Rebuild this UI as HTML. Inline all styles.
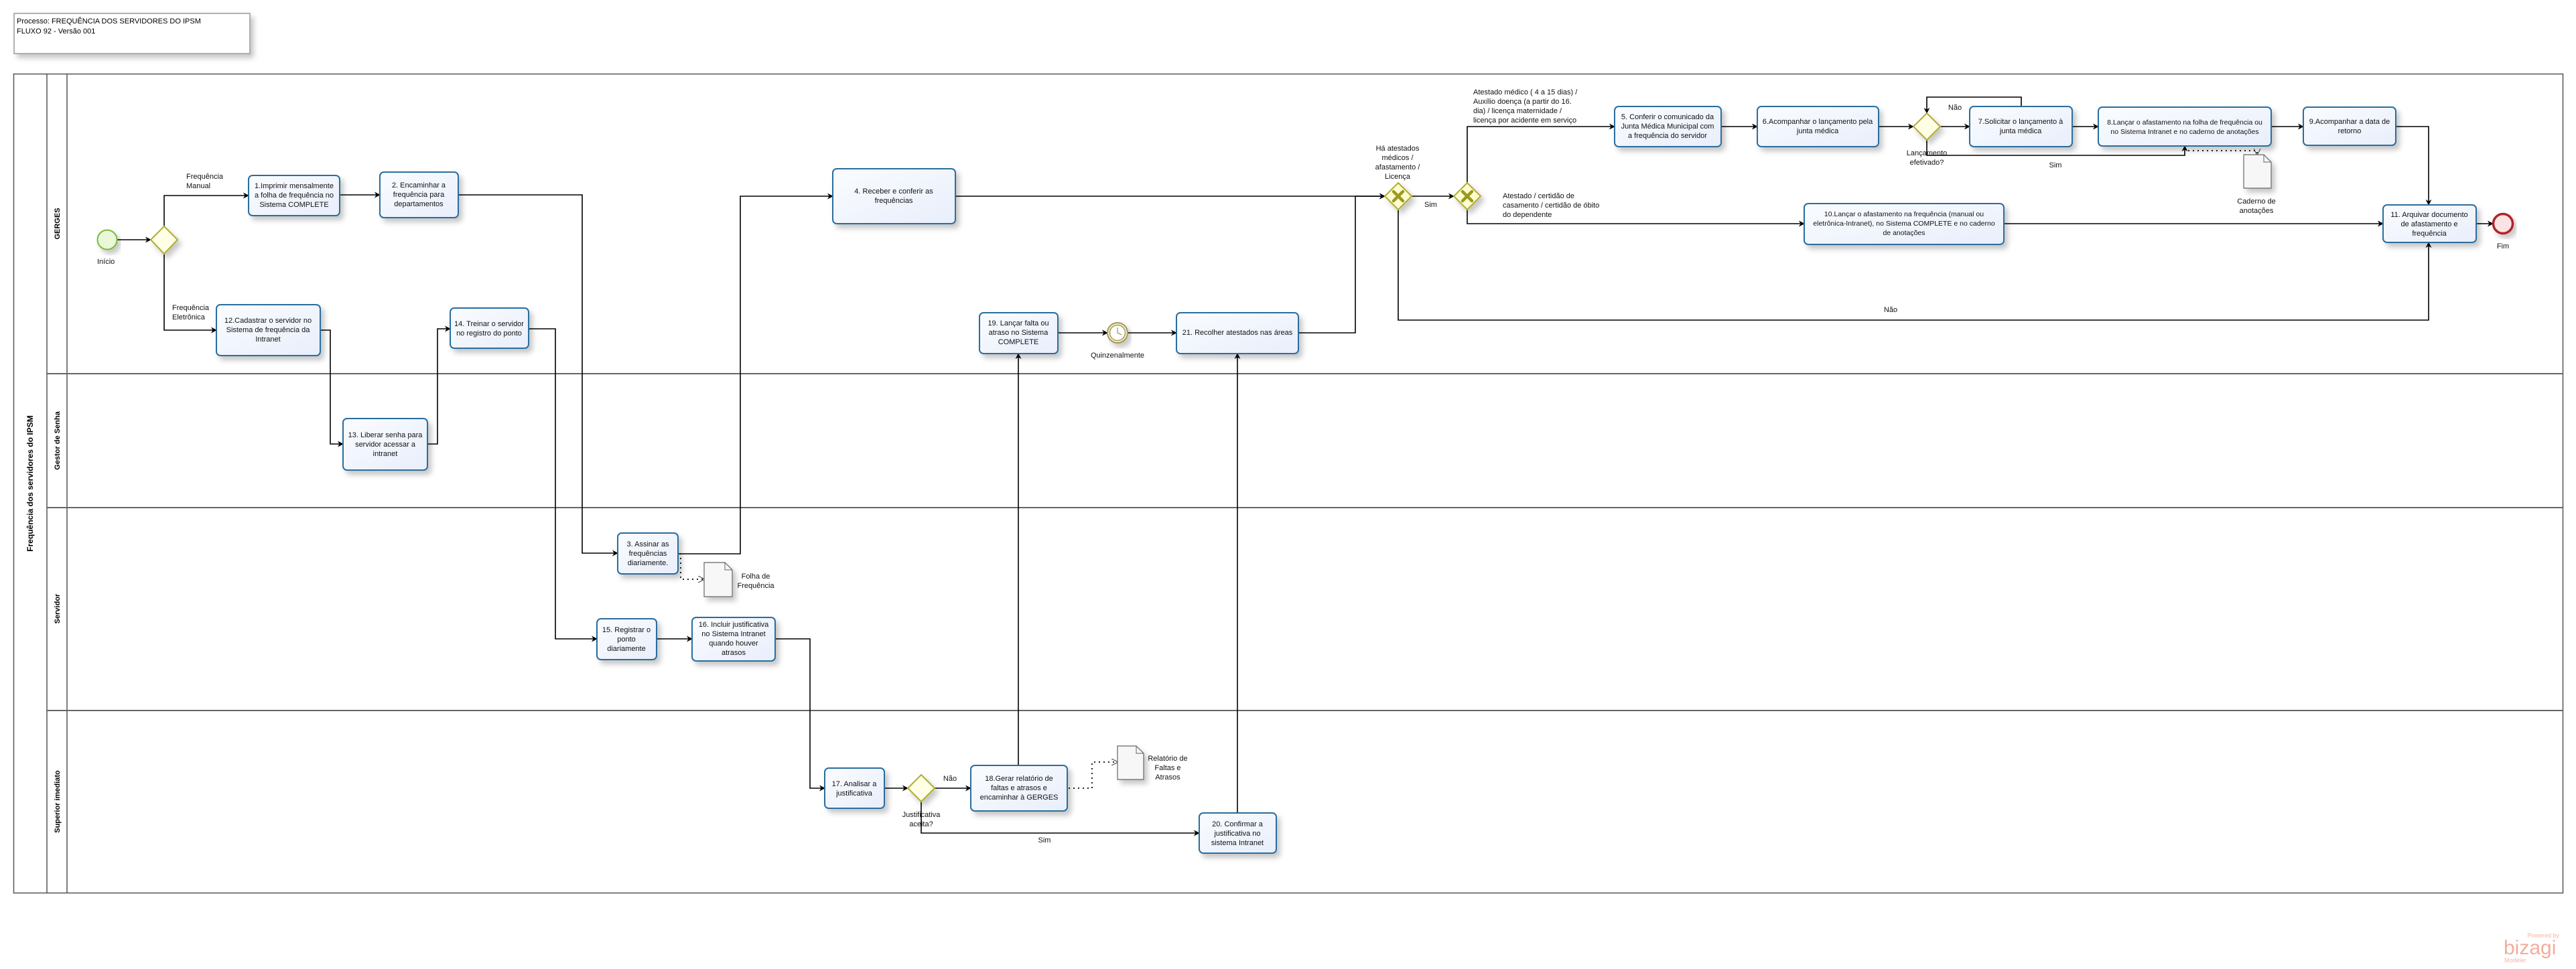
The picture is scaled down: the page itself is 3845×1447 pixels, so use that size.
<!DOCTYPE html>
<html><head><meta charset="utf-8">
<style>
html,body{margin:0;padding:0;background:#fff;}
body{width:3845px;height:1447px;overflow:hidden;position:relative;font-family:"Liberation Sans","DejaVu Sans",sans-serif;}
svg{position:absolute;left:0;top:0;}
text{font-family:"Liberation Sans","DejaVu Sans",sans-serif;}
</style></head><body>
<svg width="3845" height="1447" viewBox="0 0 3845 1447" xmlns="http://www.w3.org/2000/svg">
<defs>
<marker id="a" viewBox="0 0 10 10" refX="9" refY="5" markerWidth="9" markerHeight="9" markerUnits="userSpaceOnUse" orient="auto"><path d="M0,0 L10,5 L0,10 L3,5 z" fill="#000"/></marker>
<marker id="o" viewBox="0 0 10 10" refX="9" refY="5" markerWidth="10" markerHeight="10" markerUnits="userSpaceOnUse" orient="auto"><path d="M0,0 L10,5 L0,10" fill="none" stroke="#333" stroke-width="1"/></marker>
<linearGradient id="tg" x1="0" y1="0" x2="1" y2="1"><stop offset="0" stop-color="#fafcff"/><stop offset="1" stop-color="#e8eefb"/></linearGradient>
<filter id="sh" x="-10%" y="-10%" width="130%" height="140%"><feDropShadow dx="5" dy="6" stdDeviation="4" flood-color="#000" flood-opacity="0.22"/></filter>
</defs>

<rect x="21" y="20" width="352" height="60" fill="#fff" stroke="#999" stroke-width="1.5" filter="url(#sh)"/>
<text x="25" y="35" font-size="11">Processo: FREQUÊNCIA DOS SERVIDORES DO IPSM</text>
<text x="25" y="50" font-size="11">FLUXO 92 - Versão 001</text>

<rect x="20.5" y="110.5" width="3805" height="1223" fill="#fff" stroke="#555" stroke-width="1.5"/>
<line x1="70" y1="110" x2="70" y2="1334" stroke="#555" stroke-width="1.5"/>
<line x1="100" y1="110" x2="100" y2="1334" stroke="#555" stroke-width="1.5"/>
<line x1="70" y1="558" x2="3826" y2="558" stroke="#666" stroke-width="2"/>
<line x1="70" y1="758" x2="3826" y2="758" stroke="#666" stroke-width="2"/>
<line x1="70" y1="1061" x2="3826" y2="1061" stroke="#666" stroke-width="2"/>
<text transform="translate(49,722) rotate(-90)" font-size="12" font-weight="bold" text-anchor="middle">Frequência dos servidores do IPSM</text>
<text transform="translate(89,334) rotate(-90)" font-size="11" font-weight="bold" text-anchor="middle">GERGES</text>
<text transform="translate(89,658) rotate(-90)" font-size="11" font-weight="bold" text-anchor="middle">Gestor de Senha</text>
<text transform="translate(89,909) rotate(-90)" font-size="11" font-weight="bold" text-anchor="middle">Servidor</text>
<text transform="translate(89,1197) rotate(-90)" font-size="11" font-weight="bold" text-anchor="middle">Superior imediato</text>

<g fill="none" stroke="#000" stroke-width="1.6">
<path d="M175,358 H225" marker-end="url(#a)"/>
<path d="M245,338 V292 H371" marker-end="url(#a)"/>
<path d="M245,379 V493 H323" marker-end="url(#a)"/>
<path d="M507,291 H567" marker-end="url(#a)"/>
<path d="M684,291 H869 V826 H922" marker-end="url(#a)"/>
<path d="M478,493 H493 V663 H512" marker-end="url(#a)"/>
<path d="M638,663 H653 V491 H672" marker-end="url(#a)"/>
<path d="M789,491 H829 V954 H891" marker-end="url(#a)"/>
<path d="M980,954 H1033" marker-end="url(#a)"/>
<path d="M1157,954 H1209 V1177 H1231" marker-end="url(#a)"/>
<path d="M1320,1177 H1355" marker-end="url(#a)"/>
<path d="M1395,1177 H1449" marker-end="url(#a)"/>
<path d="M1375,1197 V1244 H1790" marker-end="url(#a)"/>
<path d="M1520,1143 V528" marker-end="url(#a)"/>
<path d="M1847,1214 V528" marker-end="url(#a)"/>
<path d="M1579,497 H1653" marker-end="url(#a)"/>
<path d="M1683,497 H1756" marker-end="url(#a)"/>
<path d="M1938,497 H2023 V293 H2067" marker-end="url(#a)"/>
<path d="M1012,827 H1105 V293 H1243" marker-end="url(#a)"/>
<path d="M1426,293 H2067" marker-end="url(#a)"/>
<path d="M2107,293 H2170" marker-end="url(#a)"/>
<path d="M2190,273 V189 H2410" marker-end="url(#a)"/>
<path d="M2190,313 V334 H2693" marker-end="url(#a)"/>
<path d="M2087,313 V478 H3625 V362" marker-end="url(#a)"/>
<path d="M2569,189 H2623" marker-end="url(#a)"/>
<path d="M2804,189 H2856" marker-end="url(#a)"/>
<path d="M2896,189 H2940" marker-end="url(#a)"/>
<path d="M3017,159 V145 H2876 V169" marker-end="url(#a)"/>
<path d="M2876,209 V232 H3261 V218" marker-end="url(#a)"/>
<path d="M3093,189 H3132" marker-end="url(#a)"/>
<path d="M3390,189 H3438" marker-end="url(#a)"/>
<path d="M3576,189 H3625 V306" marker-end="url(#a)"/>
<path d="M2991,334 H3557" marker-end="url(#a)"/>
<path d="M3696,334 H3721" marker-end="url(#a)"/>
</g>
<g fill="none" stroke="#222" stroke-width="2" stroke-dasharray="2,5">
<path d="M3266,225 H3369 V231" marker-end="url(#o)"/>
<path d="M1016,826 V865 H1051" marker-end="url(#o)"/>
<path d="M1595,1177 H1630 V1138 H1668" marker-end="url(#o)"/>
</g>

<g fill="url(#tg)" stroke="#2a6e9e" stroke-width="2" filter="url(#sh)">
<rect x="371" y="262" width="136" height="60" rx="6"/>
<rect x="567" y="257" width="117" height="68" rx="6"/>
<rect x="323" y="455" width="155" height="76" rx="6"/>
<rect x="672" y="460" width="117" height="60" rx="6"/>
<rect x="1243" y="252" width="183" height="82" rx="6"/>
<rect x="1462" y="467" width="117" height="61" rx="6"/>
<rect x="1756" y="467" width="182" height="61" rx="6"/>
<rect x="2410" y="159" width="159" height="60" rx="6"/>
<rect x="2623" y="159" width="181" height="60" rx="6"/>
<rect x="2940" y="159" width="153" height="60" rx="6"/>
<rect x="3132" y="160" width="258" height="58" rx="6"/>
<rect x="3438" y="160" width="138" height="57" rx="6"/>
<rect x="2693" y="304" width="298" height="61" rx="6"/>
<rect x="3557" y="306" width="139" height="56" rx="6"/>
<rect x="512" y="625" width="126" height="77" rx="6"/>
<rect x="922" y="796" width="90" height="61" rx="6"/>
<rect x="891" y="924" width="89" height="61" rx="6"/>
<rect x="1033" y="922" width="124" height="65" rx="6"/>
<rect x="1231" y="1147" width="89" height="60" rx="6"/>
<rect x="1449" y="1143" width="144" height="68" rx="6"/>
<rect x="1790" y="1214" width="115" height="60" rx="6"/>
</g>

<g font-size="11" text-anchor="middle" fill="#111">
<text x="439" y="281">1.Imprimir mensalmente</text><text x="439" y="295">a folha de frequência no</text><text x="439" y="309">Sistema COMPLETE</text>
<text x="625" y="280">2. Encaminhar a</text><text x="625" y="294">frequência para</text><text x="625" y="308">departamentos</text>
<text x="400" y="482">12.Cadastrar o servidor no</text><text x="400" y="496">Sistema de frequência da</text><text x="400" y="510">Intranet</text>
<text x="730" y="487">14. Treinar o servidor</text><text x="730" y="501">no registro do ponto</text>
<text x="1334" y="289">4. Receber e conferir as</text><text x="1334" y="303">frequências</text>
<text x="1520" y="486">19. Lançar falta ou</text><text x="1520" y="500">atraso no Sistema</text><text x="1520" y="514">COMPLETE</text>
<text x="1847" y="500">21. Recolher atestados nas áreas</text>
<text x="2489" y="178">5. Conferir o comunicado da</text><text x="2489" y="192">Junta Médica Municipal com</text><text x="2489" y="206">a frequência do servidor</text>
<text x="2713" y="185">6.Acompanhar o lançamento pela</text><text x="2713" y="199">junta  médica</text>
<text x="3016" y="185">7.Solicitar o lançamento à</text><text x="3016" y="199">junta médica</text>
<text x="3261" y="186" font-size="10.5">8.Lançar o afastamento na folha de frequência ou</text><text x="3261" y="200" font-size="10.5">no Sistema Intranet e no caderno de anotações</text>
<text x="3507" y="185">9.Acompanhar a data de</text><text x="3507" y="199">retorno</text>
<text x="2842" y="323" font-size="10.5">10.Lançar o afastamento  na frequência (manual ou</text><text x="2842" y="337" font-size="10.5">eletrônica-Intranet), no Sistema COMPLETE e no caderno</text><text x="2842" y="351" font-size="10.5">de anotações</text>
<text x="3626" y="324">11. Arquivar documento</text><text x="3626" y="338">de afastamento e</text><text x="3626" y="352">frequência</text>
<text x="575" y="653">13. Liberar senha para</text><text x="575" y="667">servidor  acessar a</text><text x="575" y="681">intranet</text>
<text x="967" y="816">3. Assinar as</text><text x="967" y="830">frequências</text><text x="967" y="844">diariamente.</text>
<text x="935" y="944">15. Registrar o</text><text x="935" y="958">ponto</text><text x="935" y="972">diariamente</text>
<text x="1095" y="936">16. Incluir justificativa</text><text x="1095" y="950">no Sistema Intranet</text><text x="1095" y="964">quando houver</text><text x="1095" y="978">atrasos</text>
<text x="1275" y="1174">17. Analisar a</text><text x="1275" y="1188">justificativa</text>
<text x="1521" y="1166">18.Gerar relatório de</text><text x="1521" y="1180">faltas e atrasos e</text><text x="1521" y="1194">encaminhar à GERGES</text>
<text x="1847" y="1234">20. Confirmar a</text><text x="1847" y="1248">justificativa no</text><text x="1847" y="1262">sistema Intranet</text>
</g>

<circle cx="160" cy="358" r="14.5" fill="#eaf7d8" stroke="#7cbb3a" stroke-width="2" filter="url(#sh)"/>
<circle cx="3736" cy="334" r="14.5" fill="#fbe3e3" stroke="#b3232a" stroke-width="3.5" filter="url(#sh)"/>
<g filter="url(#sh)">
<circle cx="1668" cy="497" r="15" fill="#f5f0da" stroke="#a59a55" stroke-width="2"/>
<circle cx="1668" cy="497" r="11.5" fill="#fff" stroke="#a59a55" stroke-width="1.5"/>
</g>
<path d="M1668,489 V497 L1674,500" fill="none" stroke="#a59a55" stroke-width="1.3"/>

<g stroke="#b1ad2d" stroke-width="2" filter="url(#sh)">
<polygon points="245,338 265,358 245,379 225,358" fill="#ffffe6"/>
<polygon points="1375,1157 1395,1177 1375,1197 1355,1177" fill="#ffffe6"/>
<polygon points="2876,169 2896,189 2876,209 2856,189" fill="#ffffe6"/>
<polygon points="2087,273 2107,293 2087,313 2067,293" fill="#fffbd0"/>
<polygon points="2190,273 2210,293 2190,313 2170,293" fill="#fffbd0"/>
</g>
<g stroke="#9a9a1c" stroke-width="4.5" stroke-linecap="round">
<path d="M2080,286 L2094,300 M2094,286 L2080,300"/>
<path d="M2183,286 L2197,300 M2197,286 L2183,300"/>
</g>

<g fill="#f7f7f7" stroke="#666" stroke-width="1.2" filter="url(#sh)">
<path d="M3349,231 H3379 L3390,242 V281 H3349 Z"/>
<path d="M1051,840 H1082 L1093,851 V891 H1051 Z"/>
<path d="M1668,1114 H1696 L1707,1125 V1164 H1668 Z"/>
</g>
<g fill="none" stroke="#666" stroke-width="1"><path d="M3379,231 V242 H3390"/><path d="M1082,840 V851 H1093"/><path d="M1696,1114 V1125 H1707"/></g>

<g font-size="11" fill="#111">
<text x="278" y="267">Frequência</text><text x="278" y="281">Manual</text>
<text x="257" y="463">Frequência</text><text x="257" y="477">Eletrônica</text>
<text x="145" y="394">Início</text>
<text x="3736" y="371" text-anchor="middle">Fim</text>
<text x="2086" y="225" text-anchor="middle">Há atestados</text><text x="2086" y="239" text-anchor="middle">médicos /</text><text x="2086" y="253" text-anchor="middle">afastamento /</text><text x="2086" y="267" text-anchor="middle">Licença</text>
<text x="2126" y="309">Sim</text>
<text x="2199" y="141">Atestado médico ( 4 a 15 dias) /</text><text x="2199" y="155">Auxílio doença (a partir do 16.</text><text x="2199" y="169">dia) / licença maternidade /</text><text x="2199" y="183">licença por acidente em serviço</text>
<text x="2243" y="296">Atestado / certidão de</text><text x="2243" y="310">casamento  / certidão de óbito</text><text x="2243" y="324">do dependente</text>
<text x="2822" y="466" text-anchor="middle">Não</text>
<text x="2918" y="164" text-anchor="middle">Não</text>
<text x="2876" y="232" text-anchor="middle">Lançamento</text><text x="2876" y="246" text-anchor="middle">efetivado?</text>
<text x="3068" y="250" text-anchor="middle">Sim</text>
<text x="3368" y="304" text-anchor="middle">Caderno de</text><text x="3368" y="318" text-anchor="middle">anotações</text>
<text x="1668" y="534" text-anchor="middle">Quinzenalmente</text>
<text x="1128" y="864" text-anchor="middle">Folha de</text><text x="1128" y="878" text-anchor="middle">Frequência</text>
<text x="1743" y="1136" text-anchor="middle">Relatório de</text><text x="1743" y="1150" text-anchor="middle">Faltas e</text><text x="1743" y="1164" text-anchor="middle">Atrasos</text>
<text x="1418" y="1166" text-anchor="middle">Não</text>
<text x="1375" y="1220" text-anchor="middle">Justificativa</text><text x="1375" y="1234" text-anchor="middle">aceita?</text>
<text x="1559" y="1258" text-anchor="middle">Sim</text>
</g>

<text x="3820" y="1400" font-size="9" fill="#f4b5a5" text-anchor="end">Powered by</text>
<text x="3737" y="1425" font-size="30" fill="#f2ad9c">bizagi</text>
<text x="3738" y="1437" font-size="9" fill="#f4b5a5">Modeler</text>
</svg>
</body></html>
